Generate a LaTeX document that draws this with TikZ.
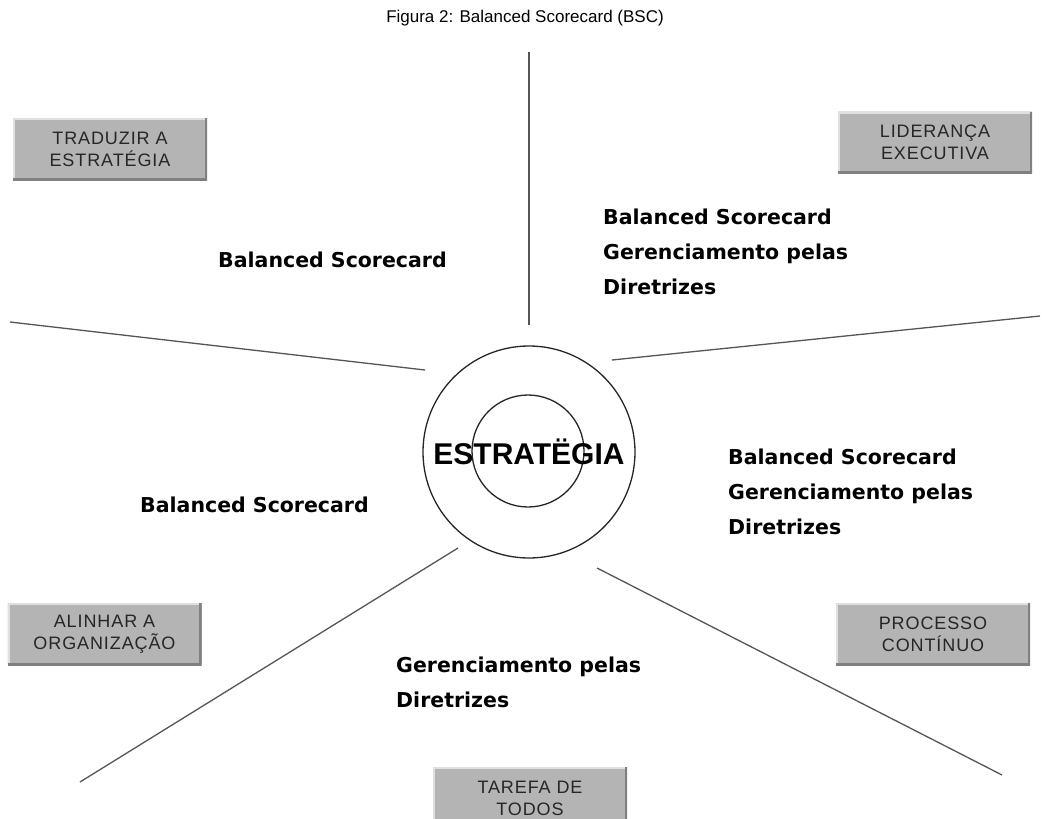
\documentclass[tikz,border=0pt]{standalone}
\usepackage{fontspec}
\setmainfont{Liberation Sans}
\newfontfamily\labelfont{DejaVu Sans}
\newfontfamily\boxfont[LetterSpace=5]{Liberation Sans}
\usepackage{tikz}
\definecolor{boxgray}{RGB}{180,180,180}
\definecolor{linegray}{RGB}{85,85,85}
\tikzset{%
  bevelbox/.style = {shape=rectangle, fill=boxgray, align=center,%
                     minimum width=194pt, minimum height=62pt, inner sep=0pt,%
                     font=\boxfont\fontsize{18}{22}\selectfont, text=black!85,%
                     path picture={%
                       \draw[white!88!black, line width=4pt]
                         (path picture bounding box.south west)
                         -- (path picture bounding box.north west)
                         -- (path picture bounding box.north east);
                       \draw[black!50, line width=5pt]
                         (path picture bounding box.north east)
                         -- (path picture bounding box.south east)
                         -- (path picture bounding box.south west);}},%
  bsclabel/.style = {anchor=north west, align=left, inner sep=0pt,%
                     font=\labelfont\bfseries\fontsize{20.5}{35}\selectfont},%
  ring/.style     = {circle, draw=black!85, line width=1.3pt, inner sep=0pt},%
  spoke/.style    = {draw=linegray, line width=1.3pt}%
}

\begin{document}
\begin{tikzpicture}[x=1pt,y=-1pt]
	\clip (0,0) rectangle (1045,819);
	\node (title) at (525,18) {\fontsize{17}{20}\selectfont Figura 2: Balanced Scorecard (BSC)};

	\node [ring, minimum size=212pt] (outer) at (529,452) {};
	\node [ring, minimum size=112pt] (inner) at (528,451) {};
	\node [font=\bfseries\fontsize{30}{30}\selectfont] (core) at (529,452) {ESTRAT\"EGIA};

	\coordinate (n-in)  at (529,325);  \coordinate (n-out)  at (529,52);
	\coordinate (nw-in) at (425,370);  \coordinate (nw-out) at (10,322);
	\coordinate (ne-in) at (612,360);  \coordinate (ne-out) at (1040,316);
	\coordinate (sw-in) at (458,548);  \coordinate (sw-out) at (80,782);
	\coordinate (se-in) at (597,568);  \coordinate (se-out) at (1002,775);
	\foreach \d in {n,nw,ne,sw,se}
		\draw [spoke] (\d-in) -- (\d-out);

	\node [bevelbox] (traduzir)  at (110,149)   {TRADUZIR A\\ESTRAT\'EGIA};
	\node [bevelbox] (lideranca) at (935,142.5) {LIDERAN\c{C}A\\EXECUTIVA};
	\node [bevelbox] (alinhar)   at (104.5,634) {ALINHAR A\\ORGANIZA\c{C}\~AO};
	\node [bevelbox] (processo)  at (933,634)   {PROCESSO\\CONT\'INUO};
	\node [bevelbox] (tarefa)    at (530,798)   {TAREFA DE\\TODOS};

	\node [bsclabel] (bsc-nw) at (218,252) {Balanced Scorecard};
	\node [bsclabel] (bsc-ne) at (603,209) {Balanced Scorecard\\Gerenciamento pelas\\Diretrizes};
	\node [bsclabel] (bsc-e)  at (728,449) {Balanced Scorecard\\Gerenciamento pelas\\Diretrizes};
	\node [bsclabel] (bsc-w)  at (140,497) {Balanced Scorecard};
	\node [bsclabel] (bsc-s)  at (396,657) {Gerenciamento pelas\\Diretrizes};
\end{tikzpicture}
\end{document}
